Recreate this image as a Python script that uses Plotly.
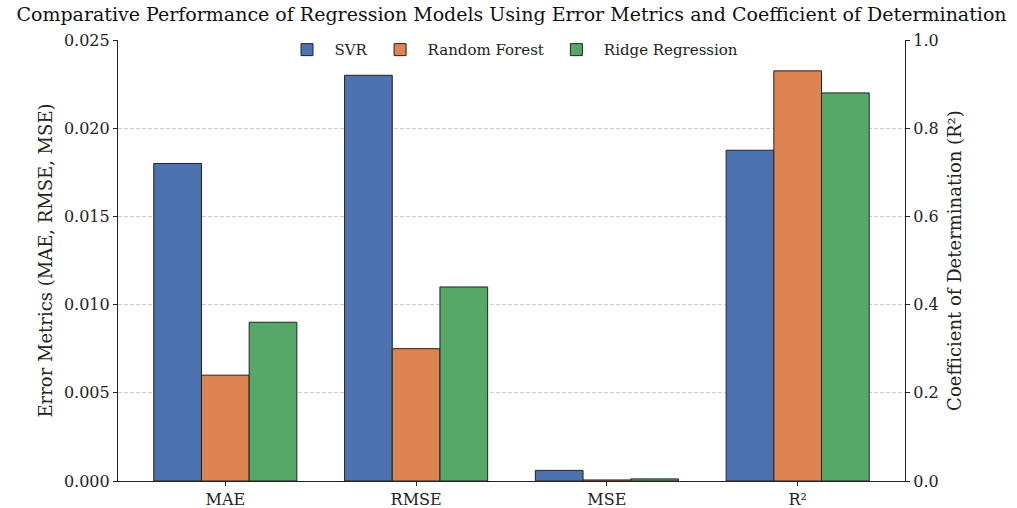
import plotly.graph_objects as go

metrics = ["MAE", "RMSE", "MSE"]
r2_label = ["R²"]
models = ["SVR", "Random Forest", "Ridge Regression"]
svr_err = [0.018, 0.023, 0.0006]
rf_err = [0.006, 0.0075, 0.00006]
ridge_err = [0.009, 0.011, 0.00012]
r2_vals = [0.75, 0.93, 0.88]
colors = ["#4c72b0", "#dd8452", "#55a868"]

err_values = [svr_err, rf_err, ridge_err]
categories = metrics + r2_label
width = 0.25
offsets = [-0.375, -0.125, 0.125]

fig = go.Figure()
for i, name in enumerate(models):
    fig.add_trace(go.Bar(
        x=metrics, y=err_values[i], name=name, legendgroup=name,
        marker=dict(color=colors[i], line=dict(color="#222222", width=1)),
        width=width, offset=offsets[i], yaxis="y", showlegend=True))
    fig.add_trace(go.Bar(
        x=r2_label, y=[r2_vals[i]], name=name, legendgroup=name,
        marker=dict(color=colors[i], line=dict(color="#222222", width=1)),
        width=width, offset=offsets[i], yaxis="y2", showlegend=False))

font_family = "DejaVu Serif"
fig.update_layout(
    width=1017, height=508,
    margin=dict(l=118, r=112, t=40, b=27),
    plot_bgcolor="white", paper_bgcolor="white",
    font=dict(family=font_family, color="#222222", size=16),
    barmode="overlay",
    title=dict(text="Comparative Performance of Regression Models Using Error Metrics and Coefficient of Determination",
               x=0.5, xanchor="center", xref="paper", y=0.985, yanchor="top",
               font=dict(family=font_family, size=19, color="#111111")),
    xaxis=dict(type="category", categoryorder="array", categoryarray=categories,
               range=[-0.5625, 3.5625], showgrid=False, automargin=False,
               showline=True, linecolor="#222222", linewidth=1.2,
               ticks="outside", ticklen=4, tickcolor="#222222",
               tickfont=dict(size=16)),
    yaxis=dict(range=[0, 0.025], tickvals=[0, 0.005, 0.01, 0.015, 0.02, 0.025],
               tickformat=".3f", showgrid=True, gridcolor="#cccccc", griddash="4px,2px",
               gridwidth=0.8, zeroline=False, automargin=False,
               showline=True, linecolor="#222222", linewidth=1.2,
               ticks="outside", ticklen=4, tickcolor="#222222",
               title=dict(text="Error Metrics (MAE, RMSE, MSE)", font=dict(size=18), standoff=6),
               tickfont=dict(size=16)),
    yaxis2=dict(range=[0, 1.0], tickvals=[0, 0.2, 0.4, 0.6, 0.8, 1.0], tickformat=".1f",
                overlaying="y", side="right", showgrid=False, zeroline=False, automargin=False,
                showline=True, linecolor="#222222", linewidth=1.2,
                ticks="outside", ticklen=4, tickcolor="#222222",
                title=dict(text="Coefficient of Determination (R²)", font=dict(size=18), standoff=10),
                tickfont=dict(size=16)),
    legend=dict(orientation="h", x=0.5, xanchor="center", y=1.015, yanchor="top",
                bgcolor="rgba(255,255,255,0)", font=dict(size=15),
                itemwidth=45, traceorder="normal"),
)

fig.write_html("out.html", config={"displayModeBar": False},
               post_script="document.body.style.margin='0';")
